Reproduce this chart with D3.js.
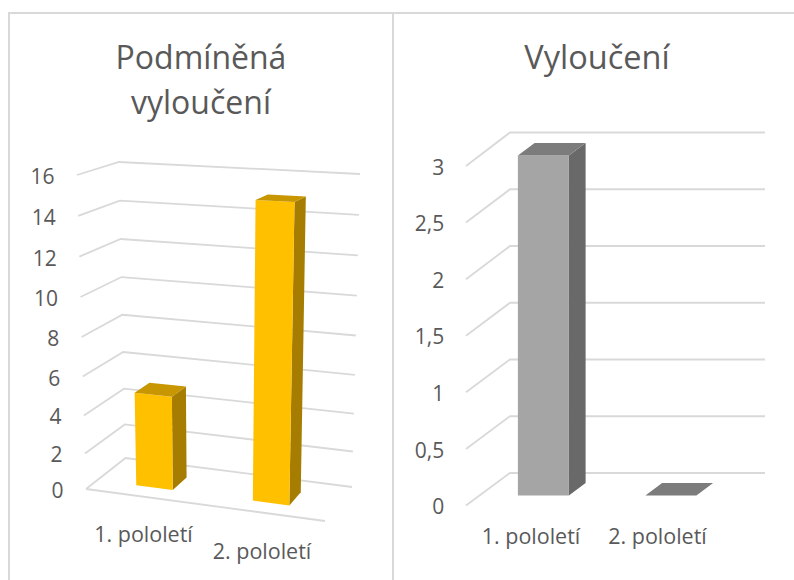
<!DOCTYPE html>
<html>
<head>
<meta charset="utf-8">
<script src="https://cdn.jsdelivr.net/npm/d3@7"></script>
<style>
body { margin: 0; background: #fff; }
text { font-family: "Open Sans", sans-serif; fill: #595959; }
</style>
</head>
<body>
<svg width="794" height="580" style="display:block"></svg>
<script>
const categories = ["1. pololetí", "2. pololetí"];
const leftValues = [5, 15];
const leftTicks = [0, 2, 4, 6, 8, 10, 12, 14, 16];
const rightValues = [3, 0];
const rightTicks = [0, 0.5, 1, 1.5, 2, 2.5, 3];

const svg = d3.select("svg");
const commaFmt = d => String(d).replace(".", ",");

// panel borders
svg.append("path")
  .attr("d", "M9,580V13H794M393,13V580")
  .attr("fill", "none").attr("stroke", "#d9d9d9").attr("stroke-width", 2);

function lerp(a, b, t) { return [a[0] + (b[0] - a[0]) * t, a[1] + (b[1] - a[1]) * t]; }

// box corners of the 3d plot: fl front left, fr front right, bl back left, br back right
function makeProjection(box, exponent, vmax) {
  const t = d3.scalePow().exponent(exponent).domain([0, vmax]).range([0, 1]);
  return function (u, v, d) {
    const bot = lerp(lerp(box.bottom.fl, box.bottom.fr, u), lerp(box.bottom.bl, box.bottom.br, u), d);
    const top = lerp(lerp(box.top.fl, box.top.fr, u), lerp(box.top.bl, box.top.br, u), d);
    return lerp(bot, top, t(v));
  };
}

function drawChart(opt) {
  const g = svg.append("g");
  const p = opt.project;
  const line = d3.line();

  // title
  opt.title.forEach((s, i) => {
    g.append("text").attr("x", opt.titleX).attr("y", opt.titleY + i * 44.5)
      .attr("text-anchor", "middle").attr("font-size", opt.titleSize).text(s);
  });

  // gridlines: side wall and back wall
  g.selectAll("path.grid").data(opt.ticks).enter().append("path")
    .attr("class", "grid")
    .attr("d", v => line([p(0, v, 0), p(0, v, 1), p(1, v, 1)]))
    .attr("fill", "none").attr("stroke", "#d9d9d9").attr("stroke-width", 1.8);

  if (opt.floor) {
    g.append("path").attr("d", line([p(0, 0, 0), p(1, 0, 0)]))
      .attr("fill", "none").attr("stroke", "#d9d9d9").attr("stroke-width", 1.8);
  }

  // tick labels
  g.selectAll("text.tick").data(opt.ticks).enter().append("text")
    .attr("class", "tick")
    .attr("x", v => p(0, v, 0)[0] - opt.tickGap)
    .attr("y", v => p(0, v, 0)[1] + opt.tickDy)
    .attr("text-anchor", "end").attr("font-size", opt.tickSize)
    .text(commaFmt);

  // bars
  const band = opt.band;
  const d0 = opt.depth[0], d1 = opt.depth[1];
  categories.forEach((c, i) => {
    const u0 = band(c), u1 = u0 + band.bandwidth();
    const val = opt.values[i];
    const bar = g.append("g");
    if (val > 0) {
      bar.append("path")
        .attr("d", line([p(u1, 0, d0), p(u1, 0, d1), p(u1, val, d1), p(u1, val, d0)]) + "Z")
        .attr("fill", opt.colors.side);
      bar.append("path")
        .attr("d", line([p(u0, 0, d0), p(u1, 0, d0), p(u1, val, d0), p(u0, val, d0)]) + "Z")
        .attr("fill", opt.colors.front);
    }
    bar.append("path")
      .attr("d", line([p(u0, val, d0), p(u1, val, d0), p(u1, val, d1), p(u0, val, d1)]) + "Z")
      .attr("fill", opt.colors.top);

    g.append("text").attr("x", opt.labelPos[i][0]).attr("y", opt.labelPos[i][1])
      .attr("text-anchor", "middle").attr("font-size", opt.labelSize).text(c);
  });
}

drawChart({
  title: ["Podmíněná", "vyloučení"],
  titleX: 201, titleY: 69, titleSize: 32,
  ticks: leftTicks,
  values: leftValues,
  floor: true,
  project: makeProjection({
    bottom: { fl: [86, 489], fr: [325, 521], bl: [125.5, 458], br: [352, 487] },
    top: { fl: [77, 175], fr: [334, 186.5], bl: [119, 162], br: [360, 174] }
  }, 1.047, 16),
  band: d3.scaleBand().domain(categories).range([-0.01, 0.99]).paddingInner(0.687).paddingOuter(0.353),
  depth: [0.29, 0.68],
  colors: { front: "#ffc000", side: "#a67d00", top: "#c79600" },
  tickGap: 22.5, tickDy: 9, tickSize: 21,
  labelPos: [[143.5, 541.5], [262, 558.5]], labelSize: 21.5
});

drawChart({
  title: ["Vyloučení"],
  titleX: 597, titleY: 69, titleSize: 32.5,
  ticks: rightTicks,
  values: rightValues,
  floor: false,
  project: makeProjection({
    bottom: { fl: [466, 505.5], fr: [721, 505.5], bl: [510, 473], br: [765, 473] },
    top: { fl: [466, 166], fr: [721, 166], bl: [510, 132.5], br: [765, 132.5] }
  }, 1, 3),
  band: d3.scaleBand().domain(categories).range([0, 1]).paddingInner(0.6).paddingOuter(0.3),
  depth: [0.31, 0.69],
  colors: { front: "#a5a5a5", side: "#696969", top: "#7c7c7c" },
  tickGap: 21.7, tickDy: 8.7, tickSize: 21,
  labelPos: [[531, 544], [657.5, 544]], labelSize: 21.5
});
</script>
</body>
</html>
